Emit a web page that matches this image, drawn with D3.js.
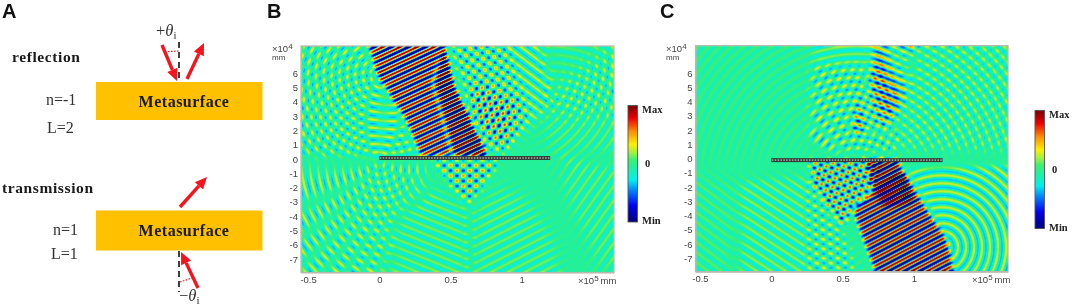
<!DOCTYPE html>
<html>
<head>
<meta charset="utf-8">
<script src="https://cdn.jsdelivr.net/npm/d3@7"></script>
<style>
  html, body { margin: 0; background: #fff; }
  svg { display: block; filter: blur(0.35px); }
  text { font-family: "Liberation Serif", serif; }
  .panel-letter { font-family: "Liberation Sans", sans-serif; font-weight: bold; font-size: 20px; fill: #111; }
  .axis text, .unit { font-family: "Liberation Sans", sans-serif; font-size: 9.5px; fill: #444; }
  .unit-small { font-size: 8px; }
</style>
</head>
<body>
<svg width="1072" height="308"></svg>
<script>
const xTicks = [-0.5, 0, 0.5, 1];
const yTicks = [6, 5, 4, 3, 2, 1, 0, -1, -2, -3, -4, -5, -6, -7];
const colorValues = [-1, -0.72, -0.45, -0.28, -0.07, 0.07, 0.2, 0.33, 0.55, 0.78, 1];
const colorStops = ["#00007a", "#0000f0", "#0088ff", "#00f0f0", "#20f0a0", "#3cf070", "#a8f040", "#f8f000", "#ff9000", "#f00000", "#780000"];
const barLabels = ["Max", "0", "Min"];
const barLabelValues = [0.93, 0, -0.98];
const gain = 1.15;
const fieldOffset = -0.05;

// NOTE: the fringes are not measured cell values. Each entry is one wave family
// read off the picture (crest slope or ring centre, wavelength, strength, region,
// all in units of 1e4 mm) and the field is their sum, so it only approximates the image.
const wavesB = [
  { slope: 0.46, wl: 0.5, amp: 1.45, ph: 0.0, soft: 1.2, poly: [[-0.9, 8.2], [4.5, 8.2], [3.7, 5.3], [5.1, 0.2], [2.9, 0.2], [1.7, 3], [-0.2, 5.9]] },
  { slope: 0.46, wl: 0.5, amp: 2.0, ph: 0.0, soft: 1.2, poly: [[4.5, 8.2], [5.3, 5], [7.6, 0.2], [5.3, 0.2], [3.9, 5.2]] },
  { ring: [0.5, 5.9], wl: 0.55, amp: 0.3, soft: 3, poly: [[-5.6, 8], [-0.9, 8], [-0.2, 5.8], [1.7, 2.9], [2.9, 0.1], [-5.6, 0.1]] },
  { ring: [0, 0], wl: 0.56, amp: 0.18, soft: 5, poly: [[-5.6, 8], [-0.9, 8], [2.9, 0.1], [-5.6, 0.1]] },
  { slope: -0.75, wl: 0.56, amp: 0.4, ph: 1, soft: 4, poly: [[4.7, 8], [11.5, 8], [12.4, 4], [9, 0.4], [7.4, 0.4]] },
  { slope: 1.4, wl: 0.56, amp: 0.28, ph: 2, soft: 4, poly: [[5, 8], [9, 8], [10.6, 3], [8.9, 0.4], [7.4, 0.4]] },
  { slope: 1.4, wl: 0.56, amp: 0.4, ph: 2, soft: 5, poly: [[6.6, 5.4], [9.8, 3.8], [8.9, 0.8], [6.4, 2.6]] },
  { ring: [8, 7], wl: 0.56, amp: 0.26, soft: 8, poly: [[11, 2], [12.5, 5], [16.6, 8], [16.6, -0.1], [12, -0.1]] },
  { ring: [12, 0], wl: 0.56, amp: 0.2, soft: 8, poly: [[11.5, 8], [16.6, 8], [16.6, 3], [12.2, 3]] },
  { slope: 1.4, wl: 0.58, amp: 0.26, soft: 6, poly: [[12, 0], [16.6, 0], [16.6, -7.9], [15.2, -7.9], [13, -3]] },
  { slope: -0.8, wl: 0.56, amp: 0.42, ph: 0.5, soft: 3, poly: [[3.6, -0.1], [8.6, -0.1], [6.2, -3.4]] },
  { slope: 0.8, wl: 0.56, amp: 0.42, ph: 1.5, soft: 3, poly: [[3.6, -0.1], [8.6, -0.1], [6.2, -3.4]] },
  { ring: [6, 0], wl: 0.57, amp: 0.28, soft: 5, poly: [[-5.6, -0.1], [3.5, -0.1], [3.6, -2.6], [1.2, -3.7], [0.5, -8], [-5.6, -8]] },
  { ring: [0, 0], wl: 0.56, amp: 0.16, soft: 5, poly: [[-5.6, -0.1], [3.5, -0.1], [1.2, -3.7], [0.5, -8], [-5.6, -8]] },
  { slope: -0.4, wl: 0.53, amp: 0.3, soft: 5, poly: [[1.2, -3.7], [4, -1.8], [6.4, -3.6], [6.4, -8], [0.5, -8]] },
  { slope: 0.5, wl: 0.53, amp: 0.3, soft: 6, poly: [[6.4, -3.6], [8.4, -1.6], [10.5, -2.5], [12.5, -5.5], [13, -8], [6.4, -8]] },
];

const wavesC = [
  { slope: 0.52, wl: 0.5, amp: 1.55, ph: 0.5, soft: 1.2, poly: [[5.7, -3.6], [8, -1.5], [9.3, -1.0], [12.3, -5.7], [12.9, -8.2], [7.4, -8.2]] },
  { slope: 0.52, wl: 0.5, amp: 2.0, ph: 0.5, soft: 2, poly: [[6.7, -0.1], [8.9, -0.1], [9.3, -1.2], [9.9, -3], [8, -3.3], [7, -1.8]] },
  { ring: [12, -6.2], wl: 0.56, amp: 0.42, soft: 2, poly: [[9.4, -0.7], [16.6, -0.4], [16.6, -8], [12.9, -8], [12.3, -5.7]] },
  { slope: 0.45, wl: 0.5, amp: 0.62, ph: 1, soft: 2.5, poly: [[2.6, -0.1], [7.6, -0.1], [7.6, -1.6], [5.8, -3.6], [5, -5], [2.8, -1.6]] },
  { slope: -1.4, wl: 0.5, amp: 0.55, ph: 2, soft: 2.5, poly: [[2.6, -0.1], [7.6, -0.1], [7.6, -1.6], [5.8, -3.6], [5, -5], [2.8, -1.6]] },
  { slope: -0.65, wl: 0.55, amp: 0.32, soft: 4, poly: [[-2, -1.4], [2.6, -1], [5, -4.8], [6, -8], [-2.6, -8]] },
  { slope: 0.7, wl: 0.56, amp: 0.2, soft: 4, poly: [[2.5, -1.5], [5.2, -4.8], [6.8, -8], [2.5, -8]] },
  { slope: -0.75, wl: 0.56, amp: 0.22, soft: 6, poly: [[-5.6, -1], [-2, -1.4], [-2.6, -8], [-5.6, -8]] },
  { slope: -0.4, wl: 0.5, amp: 0.7, ph: 0.4, soft: 4, poly: [[7.5, 8.2], [10.3, 8.2], [8.5, 2], [5.5, 1.8]] },
  { ring: [6, -2], wl: 0.55, amp: 0.3, soft: 4, poly: [[2.8, 8], [16.6, 8], [16.6, 0.4], [2.8, 0.4]] },
  { ring: [6, -2], wl: 0.55, amp: 0.16, soft: 7, poly: [[-5.6, 8], [2.8, 8], [2.8, 0.4], [-5.6, -0.6]] },
  { slope: 2, wl: 0.56, amp: 0.26, ph: 0.8, soft: 4, poly: [[2.8, 6.5], [8, 6.5], [9, 0.4], [2.6, 0.4]] },
  { slope: 0.6, wl: 0.56, amp: 0.1, soft: 6, poly: [[8, 8], [16.6, 8], [16.6, 0.4], [8, 0.4]] },
];

const svg = d3.select("svg");
const color = d3.scaleLinear().domain(colorValues).range(colorStops).clamp(true);

// panel A
const schematic = svg.append("g");

function arrow(x1, y1, x2, y2) {
  const a = Math.atan2(y2 - y1, x2 - x1);
  const bx = x2 - 12 * Math.cos(a);
  const by = y2 - 12 * Math.sin(a);
  const nx = -Math.sin(a) * 5.5;
  const ny = Math.cos(a) * 5.5;
  schematic.append("line").attr("x1", x1).attr("y1", y1).attr("x2", bx).attr("y2", by)
    .attr("stroke", "#f5141c").attr("stroke-width", 3.4);
  schematic.append("path")
    .attr("d", `M${x2},${y2}L${bx + nx},${by + ny}L${bx - nx},${by - ny}Z`)
    .attr("fill", "#f5141c");
}

[[82, 120], [210.5, 250.5]].forEach(([top, bottom]) => {
  schematic.append("rect").attr("x", 96).attr("y", top).attr("width", 166.5).attr("height", bottom - top).attr("fill", "#ffc000");
  schematic.append("text").attr("x", 184).attr("y", (top + bottom) / 2 + 5.5).attr("text-anchor", "middle")
    .attr("font-weight", "bold").attr("font-size", 16).attr("letter-spacing", 0.5).attr("fill", "#1a1a1a").text("Metasurface");
});

[[179, 42, 179, 82], [179, 251, 179, 292]].forEach(([x1, y1, x2, y2]) => {
  schematic.append("line").attr("x1", x1).attr("y1", y1).attr("x2", x2).attr("y2", y2)
    .attr("stroke", "#111").attr("stroke-width", 1.6).attr("stroke-dasharray", "6 4");
});
[[168, 51.5, 179, 51], [180, 282, 192, 278]].forEach(([x1, y1, x2, y2]) => {
  schematic.append("line").attr("x1", x1).attr("y1", y1).attr("x2", x2).attr("y2", y2)
    .attr("stroke", "#f0202a").attr("stroke-width", 1.2).attr("stroke-dasharray", "1.6 1.4");
});
arrow(162, 45, 177, 81);
arrow(187, 79, 204, 43);
arrow(180, 207, 207, 177);
arrow(198, 288, 181, 252);

[
  ["reflection", 12, 62, true],
  ["transmission", 2, 193, true],
  ["n=-1", 46, 105, false],
  ["L=2", 47, 133, false],
  ["n=1", 53, 235, false],
  ["L=1", 51, 259, false],
].forEach(([label, x, y, bold]) => {
  schematic.append("text").attr("x", x).attr("y", y)
    .attr("font-size", bold ? 15.5 : 16).attr("font-weight", bold ? "bold" : "normal")
    .attr("letter-spacing", bold ? 0.6 : 0).attr("fill", bold ? "#1a1a1a" : "#333").text(label);
});

[["+", 156, 36], ["\u2212", 179, 301]].forEach(([sign, x, y]) => {
  const t = schematic.append("text").attr("x", x).attr("y", y).attr("font-size", 16.5).attr("fill", "#333");
  t.append("tspan").text(sign);
  t.append("tspan").attr("font-style", "italic").text("\u03b8");
  t.append("tspan").attr("font-size", 11).attr("dy", 3).text("i");
});

svg.selectAll(".panel-letter").data([["A", 2, 18], ["B", 267, 18], ["C", 660, 18]]).join("text")
  .attr("class", "panel-letter").attr("x", d => d[1]).attr("y", d => d[2]).text(d => d[0]);

// sum of wave families on a pixel grid, then coloured
function fieldImage(waves, x, y) {
  const [x0, x1] = x.range();
  const [y1, y0] = y.range();
  const width = Math.round(x1 - x0);
  const height = Math.round(y1 - y0);
  const field = new Float32Array(width * height).fill(fieldOffset);

  waves.forEach(wave => {
    const mask = new Float32Array(width * height);
    for (let j = 0; j < height; j++) {
      for (let i = 0; i < width; i++) {
        const px = x.invert(x0 + i + 0.5) * 10;
        const py = y.invert(y0 + j + 0.5);
        if (d3.polygonContains(wave.poly, [px, py])) mask[j * width + i] = 1;
      }
    }
    d3.blur2({ data: mask, width, height }, wave.soft);
    const n = wave.slope === undefined ? null : [-wave.slope / Math.hypot(wave.slope, 1), 1 / Math.hypot(wave.slope, 1)];
    for (let j = 0; j < height; j++) {
      for (let i = 0; i < width; i++) {
        const m = mask[j * width + i];
        if (m < 0.01) continue;
        const px = x.invert(x0 + i + 0.5) * 10;
        const py = y.invert(y0 + j + 0.5);
        const dist = n ? n[0] * px + n[1] * py : Math.hypot(px - wave.ring[0], py - wave.ring[1]);
        field[j * width + i] += gain * m * wave.amp * Math.cos((2 * Math.PI * dist) / wave.wl + (wave.ph || 0));
      }
    }
  });
  d3.blur2({ data: field, width, height }, 0.45);

  const canvas = document.createElement("canvas");
  canvas.width = width;
  canvas.height = height;
  const context = canvas.getContext("2d");
  const image = context.createImageData(width, height);
  field.forEach((value, k) => {
    const c = d3.rgb(color(value));
    image.data.set([c.r, c.g, c.b, 255], k * 4);
  });
  context.putImageData(image, 0, 0);
  return canvas.toDataURL();
}

function drawPanel({ waves, xRange, yRange, xZero, xPerUnit, yZero, yPerUnit, slabY, bar, xLabelX, yLabelX }) {
  const x = d3.scaleLinear()
    .domain([(xRange[0] - xZero) / xPerUnit, (xRange[1] - xZero) / xPerUnit]).range(xRange);
  const y = d3.scaleLinear()
    .domain([(yZero - yRange[1]) / yPerUnit, (yZero - yRange[0]) / yPerUnit]).range([yRange[1], yRange[0]]);

  const g = svg.append("g");
  g.append("image").attr("x", xRange[0]).attr("y", yRange[0])
    .attr("width", xRange[1] - xRange[0]).attr("height", yRange[1] - yRange[0])
    .attr("preserveAspectRatio", "none").attr("href", fieldImage(waves, x, y));

  // slab of unit cells along y = 0
  const cells = d3.range(0, 1.2, 0.02);
  g.append("rect").attr("x", x(0)).attr("y", y(slabY) - 2).attr("width", x(1.2) - x(0)).attr("height", 4).attr("fill", "#333").attr("opacity", 0.92);
  g.selectAll(".cell").data(cells).join("rect").attr("class", "cell")
    .attr("x", d => x(d) + 0.6).attr("y", y(slabY) - 0.8).attr("width", 1.5).attr("height", 1.6)
    .attr("fill", "#a4a498");

  const signed = d => (d < 0 ? "-" + -d : d);
  const xAxis = g.append("g").attr("class", "axis").attr("transform", `translate(0,${yRange[1]})`)
    .call(d3.axisBottom(x).tickValues(xTicks).tickFormat(signed).tickSize(0).tickPadding(4));
  const yAxis = g.append("g").attr("class", "axis").attr("transform", `translate(${xRange[0]},0)`)
    .call(d3.axisLeft(y).tickValues(yTicks).tickFormat(signed).tickSize(0).tickPadding(3));
  [xAxis, yAxis].forEach(axis => axis.select(".domain").attr("stroke", "#b8b8b0").attr("stroke-width", 1.2));
  g.append("rect").attr("x", xRange[0]).attr("y", yRange[0]).attr("width", xRange[1] - xRange[0]).attr("height", yRange[1] - yRange[0])
    .attr("fill", "none").attr("stroke", "#b8b8b0").attr("stroke-width", 1.2);

  const xUnit = g.append("text").attr("class", "unit").attr("x", xLabelX).attr("y", yRange[1] + 11);
  xUnit.append("tspan").text("\u00d710");
  xUnit.append("tspan").attr("class", "unit-small").attr("dy", -3).text("5");
  xUnit.append("tspan").attr("dy", 3).attr("dx", 2).text("mm");
  const yUnit = g.append("text").attr("class", "unit").attr("x", yLabelX).attr("y", yRange[0] + 6);
  yUnit.append("tspan").text("\u00d710");
  yUnit.append("tspan").attr("class", "unit-small").attr("dy", -3).text("4");
  g.append("text").attr("class", "unit unit-small").attr("x", yLabelX).attr("y", yRange[0] + 14).text("mm");

  // colour bar
  const id = "grad" + bar.x;
  const barY = d3.scaleLinear().domain([-1, 1]).range([bar.y1, bar.y0]);
  const gradient = svg.append("defs").append("linearGradient").attr("id", id)
    .attr("x1", 0).attr("x2", 0).attr("y1", 1).attr("y2", 0);
  colorValues.forEach((value, k) => {
    gradient.append("stop").attr("offset", (value + 1) / 2).attr("stop-color", colorStops[k]);
  });
  g.append("rect").attr("x", bar.x).attr("y", bar.y0).attr("width", 9.5).attr("height", bar.y1 - bar.y0)
    .attr("fill", `url(#${id})`).attr("stroke", "#555").attr("stroke-width", 0.9);
  g.selectAll(".bar-label").data(barLabels).join("text").attr("class", "bar-label")
    .attr("x", (d, i) => bar.x + (i === 1 ? 17 : 14))
    .attr("y", (d, i) => barY(barLabelValues[i]) + 3.5)
    .attr("font-size", 10.5).attr("font-weight", "bold").attr("fill", "#222").text(d => d);
}

drawPanel({
  waves: wavesB,
  xRange: [301, 614], yRange: [46, 272.5],
  xZero: 379.3, xPerUnit: 142.4, yZero: 159, yPerUnit: 14.3,
  slabY: 0.07, bar: { x: 628, y0: 105.5, y1: 222 },
  xLabelX: 578, yLabelX: 272,
});
drawPanel({
  waves: wavesC,
  xRange: [695.5, 1008], yRange: [45.7, 271.7],
  xZero: 771.3, xPerUnit: 142.7, yZero: 158.7, yPerUnit: 14.25,
  slabY: -0.1, bar: { x: 1035, y0: 110.5, y1: 228.5 },
  xLabelX: 972, yLabelX: 666,
});
</script>
</body>
</html>
